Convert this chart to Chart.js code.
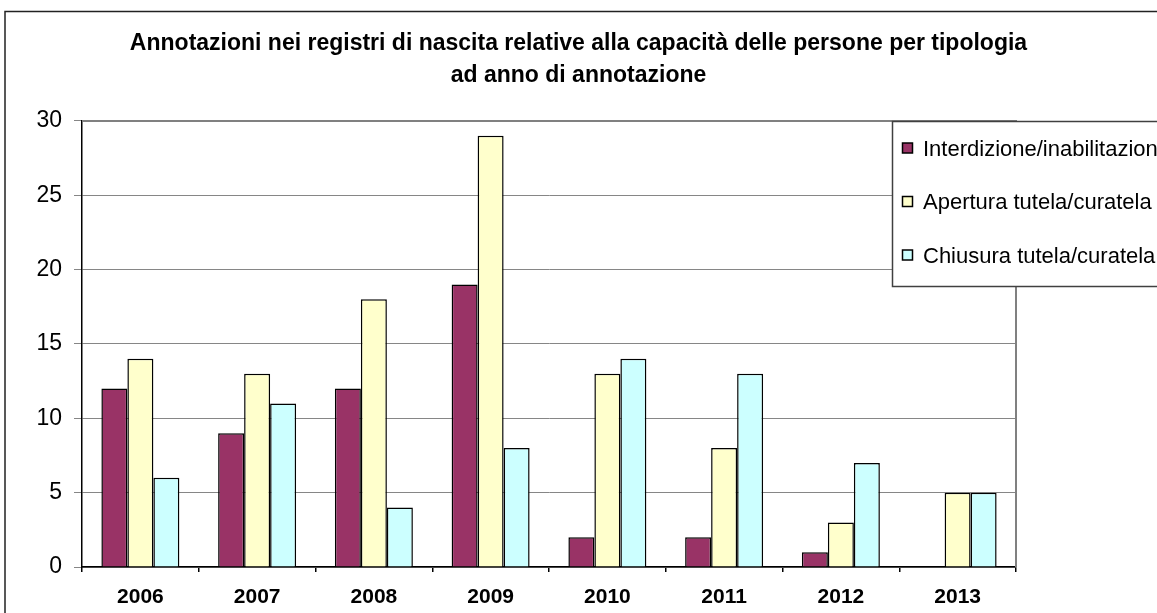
<!DOCTYPE html>
<html lang="it">
<head>
<meta charset="utf-8">
<title>Annotazioni nei registri di nascita</title>
<script src="https://cdn.jsdelivr.net/npm/chart.js@4.4.1/dist/chart.umd.min.js"></script>
<style>
    html, body { margin: 0; padding: 0; background: #fff; }
    #wrap { width: 1157px; height: 613px; position: relative; }
</style>
</head>
<body>
<div id="wrap"><canvas id="chart-annotazioni"></canvas></div>
<script>
// Dati
const anni = ['2006', '2007', '2008', '2009', '2010', '2011', '2012', '2013'];
const interdizione = [12, 9, 12, 19, 2, 2, 1, 0];
const aperturaTutela = [14, 13, 18, 29, 13, 8, 3, 5];
const chiusuraTutela = [6, 11, 4, 8, 14, 13, 7, 5];
const tickY = [0, 5, 10, 15, 20, 25, 30];

const titolo = [
    'Annotazioni nei registri di nascita relative alla capacità delle persone per tipologia',
    'ad anno di annotazione'
];

const FONT = "'Liberation Sans', Arial, Helvetica, sans-serif";
Chart.defaults.font.family = FONT;
Chart.defaults.color = '#000';

// sfondo + cornice esterna
const cornicePlugin = {
    id: 'cornice',
    beforeDraw: (chart) => {
        const ctx = chart.ctx;
        ctx.save();
        ctx.fillStyle = '#fff';
        ctx.fillRect(0, 0, chart.width, chart.height);
        ctx.strokeStyle = '#222';
        ctx.lineWidth = 1.5;
        ctx.strokeRect(5, 11.5, chart.width + 20, chart.height + 20);
        ctx.restore();
    },
    beforeDatasetsDraw: (chart) => {
        // bordo grigio dell'area del grafico (alto e destra)
        const { ctx, chartArea } = chart;
        ctx.save();
        ctx.strokeStyle = '#808080';
        ctx.lineWidth = 2;
        ctx.beginPath();
        ctx.moveTo(chartArea.left, chartArea.top);
        ctx.lineTo(chartArea.right, chartArea.top);
        ctx.lineTo(chartArea.right, chartArea.bottom);
        ctx.stroke();
        ctx.restore();
    }
};

// legenda sovrapposta al grafico, tagliata sul bordo destro come nell'originale
const legendaPlugin = {
    id: 'legendaExcel',
    afterDraw: (chart) => {
        const ctx = chart.ctx;
        const x = 892.5, y = 121.5, w = 320, h = 165;
        ctx.save();
        ctx.fillStyle = '#fff';
        ctx.fillRect(x, y, w, h);
        ctx.strokeStyle = '#404040';
        ctx.lineWidth = 1.5;
        ctx.strokeRect(x, y, w, h);

        ctx.font = '22px ' + FONT;
        ctx.textBaseline = 'middle';
        ctx.textAlign = 'left';
        chart.data.datasets.forEach((ds, i) => {
            const cy = 148.5 + i * 53.5;
            ctx.fillStyle = ds.backgroundColor;
            ctx.fillRect(902.5, cy - 5.5, 10, 10);
            ctx.strokeStyle = '#000';
            ctx.lineWidth = 1.5;
            ctx.strokeRect(902.5, cy - 5.5, 10, 10);
            ctx.fillStyle = '#000';
            ctx.fillText(ds.label, 923, cy + 1);
        });
        ctx.restore();
    }
};

const ctx = document.getElementById('chart-annotazioni');

new Chart(ctx, {
    type: 'bar',
    data: {
        labels: anni,
        datasets: [
            {
                label: 'Interdizione/inabilitazione',
                data: interdizione,
                backgroundColor: '#993366'
            },
            {
                label: 'Apertura tutela/curatela',
                data: aperturaTutela,
                backgroundColor: '#FFFFCC'
            },
            {
                label: 'Chiusura tutela/curatela',
                data: chiusuraTutela,
                backgroundColor: '#CCFFFF'
            }
        ]
    },
    options: {
        responsive: true,
        maintainAspectRatio: false,
        animation: false,
        layout: { padding: 0 },
        datasets: {
            bar: {
                borderColor: '#000',
                borderWidth: 1.5,
                borderSkipped: 'start',
                categoryPercentage: 0.668,
                barPercentage: 1
            }
        },
        plugins: {
            legend: { display: false },
            tooltip: { enabled: false },
            title: {
                display: true,
                text: titolo,
                color: '#000',
                font: { size: 23, weight: 'bold', lineHeight: 1.39 },
                padding: { top: 28, bottom: 29 }
            }
        },
        scales: {
            x: {
                offset: true,
                grid: {
                    offset: true,
                    drawOnChartArea: false,
                    drawTicks: true,
                    tickLength: 5,
                    color: '#000',
                    lineWidth: 1.5
                },
                border: { display: true, color: '#000', width: 1.5 },
                ticks: {
                    font: { size: 21, weight: 'bold' },
                    color: '#000',
                    padding: 13,
                    maxRotation: 0
                },
                afterFit: (scale) => { scale.height = 46; }
            },
            y: {
                min: 0,
                max: 30,
                afterBuildTicks: (scale) => {
                    scale.ticks = tickY.map(v => ({ value: v }));
                },
                grid: {
                    color: '#868686',
                    lineWidth: 1,
                    tickLength: 8
                },
                border: { display: true, color: '#000', width: 1.5 },
                ticks: {
                    font: { size: 23 },
                    color: '#000',
                    padding: 12
                },
                afterFit: (scale) => { scale.width = 82; }
            },
            // asse vuoto a destra: solo spazio per la legenda
            spazio: {
                position: 'right',
                display: true,
                grid: { display: false, drawTicks: false },
                border: { display: false },
                ticks: { display: false },
                afterFit: (scale) => { scale.width = 141; }
            }
        }
    },
    plugins: [cornicePlugin, legendaPlugin]
});
</script>
</body>
</html>
